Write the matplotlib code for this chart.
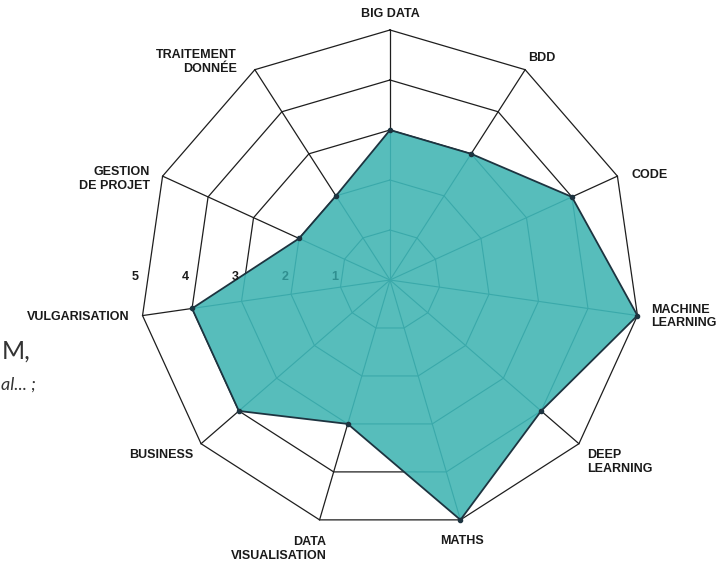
import numpy as np
import matplotlib
matplotlib.use('Agg')
import matplotlib.pyplot as plt
from matplotlib.patches import Polygon

# skill radar, scale 0..5
categories = ['BIG DATA', 'BDD', 'CODE', 'MACHINE\nLEARNING', 'DEEP\nLEARNING', 'MATHS',
              'DATA\nVISUALISATION', 'BUSINESS', 'VULGARISATION', 'GESTION\nDE PROJET',
              'TRAITEMENT\nDONNÉE']
values = [3, 3, 4, 5, 4, 5, 3, 4, 4, 2, 2]
levels = [1, 2, 3, 4, 5]

# label layout: offset in pixels from the outer vertex, alignment
label_style = {
    'BIG DATA': ((0, 16), 'center'),
    'BDD': ((3, 12), 'left'),
    'CODE': ((14, 1), 'left'),
    'MACHINE\nLEARNING': ((14, -1), 'left'),
    'DEEP\nLEARNING': ((8, -18), 'left'),
    'MATHS': ((2, -21), 'center'),
    'DATA\nVISUALISATION': ((7, -29), 'right'),
    'BUSINESS': ((-8, -11), 'right'),
    'VULGARISATION': ((-13, -1), 'right'),
    'GESTION\nDE PROJET': ((-13, -3), 'right'),
    'TRAITEMENT\nDONNÉE': ((-18, 8), 'right'),
}

fill_col = '#57bdbb'
inner_grid = '#3aa9aa'
edge_col = '#1d3440'
web_col = '#1e1e1e'

n = len(categories)
ang = np.pi / 2 - np.arange(n) * 2 * np.pi / n
cx, cy = np.cos(ang), np.sin(ang)

W, H = 728, 564
fig = plt.figure(figsize=(W / 100, H / 100), dpi=100)
ax = fig.add_axes([0, 0, 1, 1])
# centre of the web at pixel (390, 280), 50 px per unit
ax.set_xlim(-390 / 50, (W - 390) / 50)
ax.set_ylim(-(H - 280) / 50, 280 / 50)
ax.axis('off')

# black web
for lv in levels:
    ax.plot(np.append(cx, cx[0]) * lv, np.append(cy, cy[0]) * lv, color=web_col, lw=0.9, zorder=1)
for i in range(n):
    ax.plot([0, cx[i] * 5], [0, cy[i] * 5], color=web_col, lw=0.9, zorder=1)

# filled skills polygon
v = np.array(values, dtype=float)
pts = np.column_stack([cx * v, cy * v])
poly = Polygon(pts, closed=True, facecolor=fill_col, edgecolor='none', zorder=2)
ax.add_patch(poly)

# web seen through the fill
for lv in levels:
    ln, = ax.plot(np.append(cx, cx[0]) * lv, np.append(cy, cy[0]) * lv, color=inner_grid, lw=0.8, zorder=3)
    ln.set_clip_path(poly)
for i in range(n):
    ln, = ax.plot([0, cx[i] * 5], [0, cy[i] * 5], color=inner_grid, lw=0.8, zorder=3)
    ln.set_clip_path(poly)

ax.plot(np.append(pts[:, 0], pts[0, 0]), np.append(pts[:, 1], pts[0, 1]), color=edge_col, lw=1.3, zorder=4)
ax.plot(pts[:, 0], pts[:, 1], 'o', color=edge_col, ms=3, zorder=5)

# category labels
for i, lab in enumerate(categories):
    off, ha = label_style[lab]
    ax.annotate(lab, xy=(cx[i] * 5, cy[i] * 5), xytext=off, textcoords='offset pixels',
                ha=ha, va='center', multialignment=ha, fontsize=9, fontweight='bold',
                family='Liberation Sans', color='#1a1a1a', linespacing=1.2, zorder=6)

# level numbers along the left
for lv in levels:
    col = '#2f8f90' if lv < 3 else '#1a1a1a'
    ax.text(-(lv + 0.1), 0.06, str(lv), ha='center', va='center', fontsize=9,
            fontweight='bold', family='Liberation Sans', color=col, zorder=6)

# bits of surrounding page text at the left edge
fig.text(0.002, 0.377, 'M,', fontsize=18, family='Lato', color='#333333', ha='left', va='center')
fig.text(0.002, 0.318, 'al... ;', fontsize=13, family='Lato', style='italic', color='#333333',
         ha='left', va='center')

fig.savefig('out.png', dpi=100)
